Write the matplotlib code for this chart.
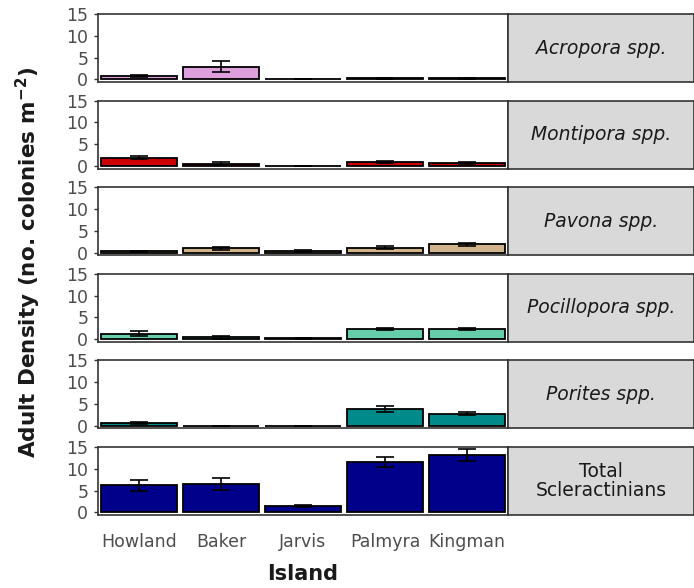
import matplotlib.pyplot as plt
import numpy as np

islands = ['Howland', 'Baker', 'Jarvis', 'Palmyra', 'Kingman']
taxa = ['Acropora spp.', 'Montipora spp.', 'Pavona spp.',
        'Pocillopora spp.', 'Porites spp.', 'Total\nScleractinians']
colors = ['#DDA0DD', '#CD0000', '#D2B48C', '#66CDAA', '#008B8B', '#00008B']

acropora = [0.8, 2.9, 0.05, 0.3, 0.3]
acropora_se = [0.3, 1.3, 0.0, 0.1, 0.1]
montipora = [1.9, 0.5, 0.1, 0.9, 0.7]
montipora_se = [0.4, 0.3, 0.0, 0.3, 0.2]
pavona = [0.3, 1.0, 0.4, 1.1, 1.9]
pavona_se = [0.1, 0.3, 0.3, 0.3, 0.4]
pocillopora = [1.3, 0.4, 0.2, 2.3, 2.3]
pocillopora_se = [0.6, 0.3, 0.1, 0.3, 0.3]
porites = [0.6, 0.05, 0.05, 3.8, 2.8]
porites_se = [0.3, 0.0, 0.0, 0.7, 0.4]
total = [6.2, 6.6, 1.4, 11.6, 13.1]
total_se = [1.2, 1.4, 0.2, 1.2, 1.4]

means = [acropora, montipora, pavona, pocillopora, porites, total]
errs = [acropora_se, montipora_se, pavona_se, pocillopora_se, porites_se, total_se]

W, H = 694, 588
fig = plt.figure(figsize=(W / 100, H / 100), dpi=100)

left, right, strip_r = 98, 508, 694
top0, step, ph = 14, 86.6, 68
tick_col = '#4D4D4D'
frame_col = '#333333'
x = np.arange(len(islands))

for i in range(len(taxa)):
    top = top0 + i * step
    ax = fig.add_axes([left / W, 1 - (top + ph) / H, (right - left) / W, ph / H])
    ax.bar(x, means[i], width=0.92, color=colors[i], edgecolor='black', linewidth=1.3,
           yerr=errs[i], error_kw=dict(ecolor='black', elinewidth=1.2, capsize=6.5, capthick=1.2))
    ax.set_xlim(-0.5, 4.5)
    ax.set_ylim(-0.6, 15)
    ax.set_yticks([0, 5, 10, 15])
    ax.tick_params(axis='y', labelsize=12.5, colors=frame_col, labelcolor=tick_col,
                   length=3, width=1, pad=4)
    for s in ax.spines.values():
        s.set_color(frame_col)
        s.set_linewidth(1.2)
    if i < len(taxa) - 1:
        ax.set_xticks([])
    else:
        ax.set_xticks(x)
        ax.set_xticklabels(islands)
        ax.tick_params(axis='x', labelsize=12.5, labelcolor=tick_col, length=0, pad=13)
        ax.set_xlabel('Island', fontsize=15, fontweight='bold', color='#1A1A1A', labelpad=9)

    sax = fig.add_axes([right / W, 1 - (top + ph) / H, (strip_r - right) / W, ph / H])
    sax.set_facecolor('#D9D9D9')
    sax.set_xticks([])
    sax.set_yticks([])
    for s in sax.spines.values():
        s.set_color(frame_col)
        s.set_linewidth(1.2)
    style = 'normal' if i == len(taxa) - 1 else 'italic'
    sax.text(0.5, 0.5, taxa[i], ha='center', va='center', fontsize=13.5,
             style=style, color='#1A1A1A', transform=sax.transAxes, linespacing=1.05)

fig.text(28 / W, 1 - 262 / H, 'Adult Density (no. colonies m$^{\\mathbf{-2}}$)',
         rotation=90, ha='center', va='center', fontsize=15.5, fontweight='bold', color='#1A1A1A')

plt.savefig('out.png', dpi=100)
